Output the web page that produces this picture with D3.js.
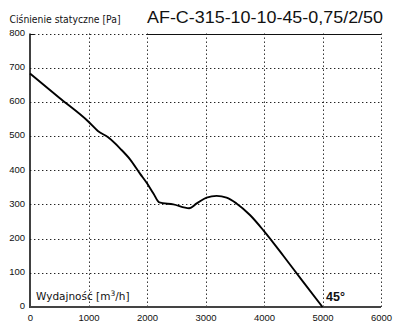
<!DOCTYPE html>
<html>
<head>
<meta charset="utf-8">
<script src="https://cdn.jsdelivr.net/npm/d3@7"></script>
<style>
  html, body { margin: 0; padding: 0; background: #fff; }
  svg { display: block; }
</style>
</head>
<body>
<svg id="chart" width="400" height="332"></svg>
<script>
// Fan characteristic: static pressure vs. airflow
const flow = [0, 500, 1000, 1160, 1330, 1550, 1710, 1880, 2000, 2110, 2210, 2450, 2720, 2850, 3020, 3190, 3360, 3530, 3760, 4000, 4330, 4650, 5000];
const pressure = [683, 612, 542, 515, 497, 462, 432, 390, 362, 332, 306, 300, 289, 303, 320, 325, 320, 303, 269, 222, 150, 78, 0];
const xTicks = [0, 1000, 2000, 3000, 4000, 5000, 6000];
const yTicks = [0, 100, 200, 300, 400, 500, 600, 700, 800];
const modelName = "AF-C-315-10-10-45-0,75/2/50";
const bladeAngle = "45°";

const svg = d3.select("#chart");
const x = d3.scaleLinear().domain([0, 6000]).range([30, 381]);
const y = d3.scaleLinear().domain([0, 800]).range([307, 33.5]);

// dotted grid
const grid = svg.append("g").attr("stroke", "#222").attr("stroke-width", 1)
  .attr("stroke-dasharray", "1.4,2.6");
grid.selectAll(".h").data(yTicks.filter(d => d > 0)).join("line")
  .attr("x1", x(0)).attr("x2", x(6000))
  .attr("y1", d => Math.round(y(d)) + 0.5).attr("y2", d => Math.round(y(d)) + 0.5);
grid.selectAll(".v").data(xTicks.filter(d => d > 0)).join("line")
  .attr("y1", y(800)).attr("y2", y(0))
  .attr("x1", d => Math.round(x(d)) + 0.5).attr("x2", d => Math.round(x(d)) + 0.5);

// solid frame pieces
svg.append("line").attr("x1", x(2000)).attr("x2", x(6000))
  .attr("y1", Math.round(y(800)) + 0.5).attr("y2", Math.round(y(800)) + 0.5)
  .attr("stroke", "#111").attr("stroke-width", 1);
svg.append("line").attr("x1", x(0)).attr("x2", x(0) + 4)
  .attr("y1", Math.round(y(800)) + 0.5).attr("y2", Math.round(y(800)) + 0.5)
  .attr("stroke", "#111").attr("stroke-width", 1);
svg.append("line").attr("x1", x(0)).attr("x2", x(0))
  .attr("y1", y(800)).attr("y2", y(0) + 1)
  .attr("stroke", "#111").attr("stroke-width", 1.6);
svg.append("line").attr("x1", x(0)).attr("x2", x(6000))
  .attr("y1", y(0)).attr("y2", y(0))
  .attr("stroke", "#444").attr("stroke-width", 2);

// axes labels
const xAxis = d3.axisBottom(x).tickValues(xTicks).tickFormat(d3.format("d"))
  .tickSize(0).tickPadding(6);
const gx = svg.append("g").attr("transform", `translate(0,${y(0) + 1})`).call(xAxis);
gx.select(".domain").remove();
gx.selectAll("text").attr("font-family", "Liberation Sans, Arial, sans-serif")
  .attr("font-size", 9.5).attr("fill", "#111");

const yAxis = d3.axisLeft(y).tickValues(yTicks).tickFormat(d3.format("d"))
  .tickSize(0).tickPadding(5);
const gy = svg.append("g").attr("transform", `translate(${x(0)},0)`).call(yAxis);
gy.select(".domain").remove();
gy.selectAll("text").attr("font-family", "Liberation Sans, Arial, sans-serif")
  .attr("font-size", 9.5).attr("fill", "#111").attr("dy", "0.2em");

// curve
const line = d3.line().x(d => x(d[0])).y(d => y(d[1])).curve(d3.curveMonotoneX);
svg.append("path").datum(flow.map((f, i) => [f, pressure[i]]))
  .attr("d", line).attr("fill", "none").attr("stroke", "#000")
  .attr("stroke-width", 1.9).attr("stroke-linejoin", "round");

// titles
svg.append("text").attr("x", 9.5).attr("y", 22.5)
  .attr("font-family", "DejaVu Sans, sans-serif").attr("font-size", 10.5)
  .attr("textLength", 111).attr("lengthAdjust", "spacingAndGlyphs")
  .attr("fill", "#111").text("Ciśnienie statyczne [Pa]");
svg.append("text").attr("x", 147).attr("y", 23)
  .attr("font-family", "Liberation Sans, Arial, sans-serif").attr("font-size", 16)
  .attr("textLength", 236).attr("lengthAdjust", "spacingAndGlyphs")
  .attr("fill", "#111").text(modelName);

const xl = svg.append("text").attr("x", 36).attr("y", 300)
  .attr("font-family", "DejaVu Sans, sans-serif").attr("font-size", 10.5)
  .attr("fill", "#111");
xl.append("tspan").text("Wydajność [m");
xl.append("tspan").attr("dy", -4).attr("font-size", 7.5).text("3");
xl.append("tspan").attr("dy", 4).text("/h]");

svg.append("text").attr("x", 326).attr("y", 301)
  .attr("font-family", "Liberation Sans, Arial, sans-serif").attr("font-size", 12.5)
  .attr("font-weight", "bold").attr("fill", "#111").text(bladeAngle);
</script>
</body>
</html>
